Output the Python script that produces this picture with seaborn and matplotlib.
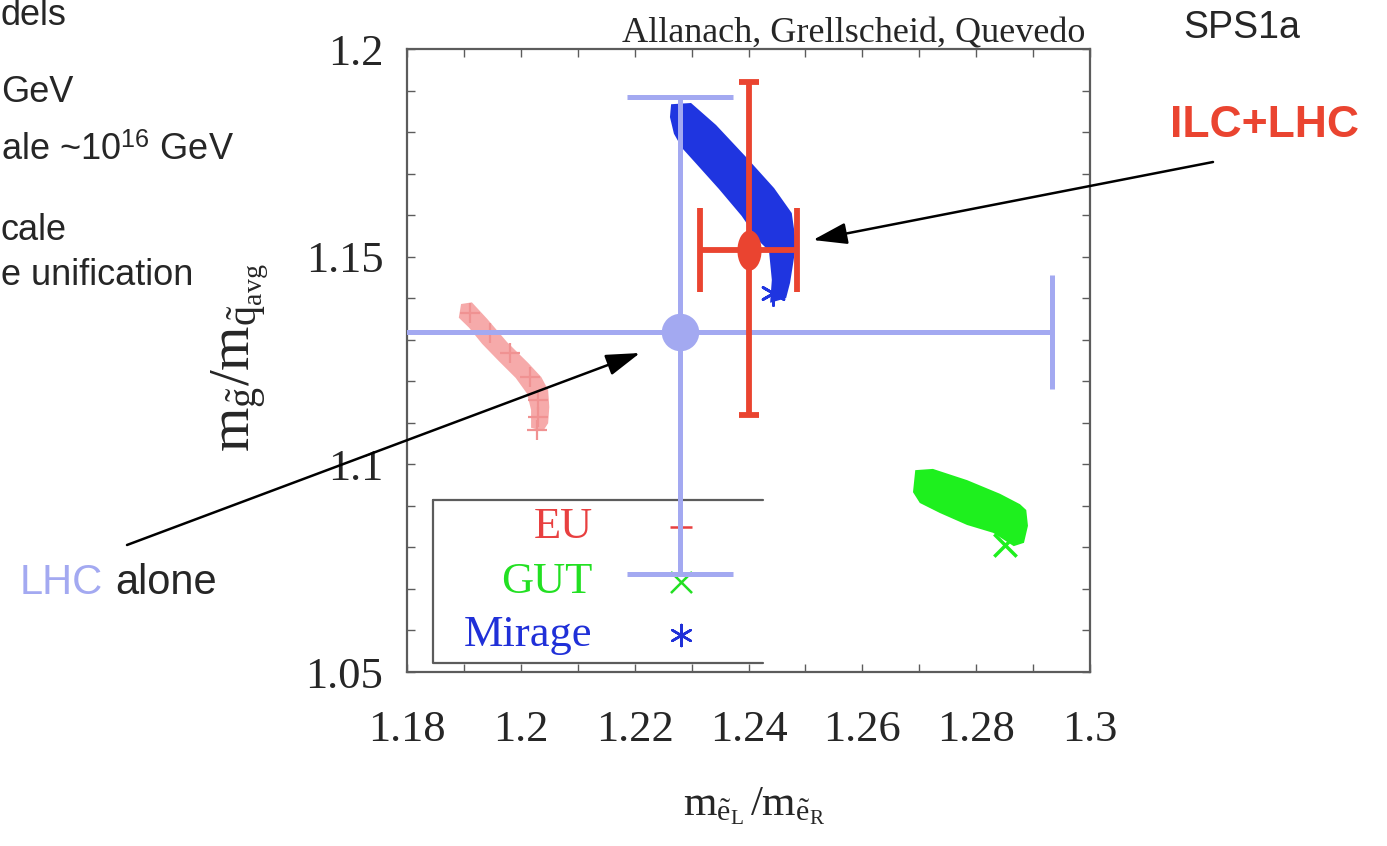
import matplotlib
matplotlib.use("Agg")
import numpy as np
import pandas as pd
import matplotlib.pyplot as plt
import seaborn as sns
from matplotlib.path import Path
from matplotlib.ticker import MultipleLocator, FuncFormatter

# ---------------------------------------------------------------- data
# scan regions of the three models (outline of each scatter band)
eu_x = [1.1895, 1.1914, 1.1941, 1.1976, 1.2013, 1.2036, 1.2048, 1.2050, 1.2048,
        1.2039, 1.2018, 1.2018, 1.2011, 1.1991, 1.1961, 1.1932, 1.1909, 1.1891]
eu_y = [1.1386, 1.1390, 1.1350, 1.1294, 1.1244, 1.1210, 1.1179, 1.1138, 1.1099,
        1.1080, 1.1088, 1.1131, 1.1170, 1.1208, 1.1249, 1.1290, 1.1329, 1.1353]
eu_pts_x = [1.1911, 1.1946, 1.1981, 1.2016, 1.2030, 1.2030, 1.2028]
eu_pts_y = [1.1364, 1.1316, 1.1268, 1.1210, 1.1155, 1.1114, 1.1083]

mirage_x = [1.2264, 1.2299, 1.2343, 1.2397, 1.2445, 1.2476, 1.2482, 1.2482, 1.2478,
            1.2473, 1.2466, 1.2438, 1.2441, 1.2436, 1.2418, 1.2388, 1.2348, 1.2308,
            1.2283, 1.2269, 1.2262]
mirage_y = [1.1867, 1.1870, 1.1817, 1.1738, 1.1665, 1.1605, 1.1547, 1.1516, 1.1480,
            1.1437, 1.1400, 1.1389, 1.1444, 1.1514, 1.1538, 1.1598, 1.1663, 1.1724,
            1.1762, 1.1796, 1.1836]
mirage_pts_x = [1.2443]
mirage_pts_y = [1.1412]

gut_x = [1.2693, 1.2724, 1.2784, 1.2842, 1.2877, 1.2888, 1.2891, 1.2884, 1.2866,
         1.2830, 1.2784, 1.2736, 1.2701, 1.2689]
gut_y = [1.0986, 1.0989, 1.0962, 1.0929, 1.0904, 1.0890, 1.0852, 1.0811, 1.0803,
         1.0835, 1.0854, 1.0883, 1.0907, 1.0933]
gut_pts_x = [1.2851]
gut_pts_y = [1.0806]

# measurements: central value and (minus, plus) errors
lhc_x, lhc_y = 1.2280, 1.1319
lhc_xerr = (0.0612, 0.0653)
lhc_yerr = (0.0583, 0.0565)

ilc_x, ilc_y = 1.2400, 1.1516
ilc_xerr = (0.0085, 0.0085)
ilc_yerr = (0.0397, 0.0405)

legend_labels = ["EU", "GUT", "Mirage"]
legend_marker_x = [1.2281, 1.2281, 1.2281]
legend_marker_y = [1.0849, 1.0717, 1.0589]

x_ticks = [1.18, 1.20, 1.22, 1.24, 1.26, 1.28, 1.30]
y_ticks = [1.05, 1.10, 1.15, 1.20]

# ---------------------------------------------------------------- style
sns.set_style("ticks")
plt.rcParams["font.family"] = ["Liberation Serif", "DejaVu Serif"]
plt.rcParams["mathtext.fontset"] = "custom"
plt.rcParams["mathtext.rm"] = "Liberation Serif"
plt.rcParams["mathtext.it"] = "Liberation Serif:italic"

LHC_C = "#a3a9f1"
ILC_C = "#ea4430"
EU_FILL = "#f6aaaa"
EU_MARK = "#f09292"
MIR_C = "#1f35e0"
GUT_C = "#1ef01e"
FRAME = "#5c5c5c"

W, H = 1387, 846


def fpos(px, py):
    """figure fraction from pixel position (origin top-left)"""
    return px / W, 1 - py / H


fig = plt.figure(figsize=(W / 100, H / 100), dpi=100)
ax = fig.add_axes([407 / W, 1 - 672 / H, 683 / W, 623 / H])

# ---------------------------------------------------------------- model bands
ax.fill(eu_x, eu_y, color=EU_FILL, lw=0, zorder=1)
ax.fill(mirage_x, mirage_y, color=MIR_C, lw=0, zorder=1)
ax.fill(gut_x, gut_y, color=GUT_C, lw=0, zorder=1)

eu_df = pd.DataFrame({"x": eu_pts_x, "y": eu_pts_y})
sns.scatterplot(data=eu_df, x="x", y="y", marker="+", s=200, color=EU_MARK,
                linewidth=1.6, ax=ax, zorder=2, legend=False)
sns.scatterplot(x=mirage_pts_x, y=mirage_pts_y, marker=(6, 2, 0), s=300,
                color=MIR_C, linewidth=2, ax=ax, zorder=2, legend=False)
sns.scatterplot(x=gut_pts_x, y=gut_pts_y, marker="x", s=260, color=GUT_C,
                linewidth=2.5, ax=ax, zorder=2, legend=False)

# ---------------------------------------------------------------- key box
key_colors = ["#e84040", "#22e022", "#2030d8"]
key_markers = ["+", "x", (6, 2, 0)]
for lab, mx, my, col, mk in zip(legend_labels, legend_marker_x, legend_marker_y,
                                 key_colors, key_markers):
    sns.scatterplot(x=[mx], y=[my], marker=mk, s=230, color=col, linewidth=1.8,
                    ax=ax, zorder=2, legend=False)
    ax.text(1.2126, my, lab, color=col, fontsize=32, ha="right", va="center",
            zorder=2)
ax.plot([0.038, 0.521], [0.276, 0.276], transform=ax.transAxes, color=FRAME,
        lw=1.6, zorder=1)
ax.plot([0.038, 0.038, 0.521], [0.276, 0.0144, 0.0144], transform=ax.transAxes,
        color=FRAME, lw=1.6, zorder=1)

# ---------------------------------------------------------------- measurements
ax.errorbar(lhc_x, lhc_y, xerr=[[lhc_xerr[0]], [lhc_xerr[1]]], fmt="none",
            ecolor=LHC_C, elinewidth=3.6, capsize=41, capthick=3.6, zorder=3)
ax.errorbar(lhc_x, lhc_y, yerr=[[lhc_yerr[0]], [lhc_yerr[1]]], fmt="none",
            ecolor=LHC_C, elinewidth=3.6, capsize=38, capthick=3.6, zorder=3)
sns.scatterplot(x=[lhc_x], y=[lhc_y], marker="o", s=27 ** 2, color=LHC_C,
                linewidth=0, ax=ax, zorder=4, legend=False)

ax.errorbar(ilc_x, ilc_y, xerr=[[ilc_xerr[0]], [ilc_xerr[1]]], fmt="none",
            ecolor=ILC_C, elinewidth=4.2, capsize=30, capthick=4.2, zorder=5)
ax.errorbar(ilc_x, ilc_y, yerr=[[ilc_yerr[0]], [ilc_yerr[1]]], fmt="none",
            ecolor=ILC_C, elinewidth=4.2, capsize=7, capthick=4.2, zorder=5)
circ = Path.unit_circle()
ellipse = Path(circ.vertices * np.array([0.6, 1.0]), circ.codes)
sns.scatterplot(x=[ilc_x], y=[ilc_y], marker=ellipse, s=29 ** 2, color=ILC_C,
                linewidth=0, ax=ax, zorder=6, legend=False)

# ---------------------------------------------------------------- axes
ax.set_xlim(1.18, 1.30)
ax.set_ylim(1.05, 1.20)
ax.set_xticks(x_ticks)
ax.set_yticks(y_ticks)
ax.xaxis.set_minor_locator(MultipleLocator(0.01))
ax.yaxis.set_minor_locator(MultipleLocator(0.01))
fmt = FuncFormatter(lambda v, p: f"{round(v, 3):g}")
ax.xaxis.set_major_formatter(fmt)
ax.yaxis.set_major_formatter(fmt)
ax.tick_params(which="both", direction="in", top=True, right=True, length=6,
               width=1, color=FRAME)
ax.tick_params(axis="x", which="major", labelsize=32, pad=27)
ax.tick_params(axis="y", which="major", labelsize=32, pad=17)
ax.set_xlabel("")
ax.set_ylabel("")
for sp in ax.spines.values():
    sp.set_visible(True)
    sp.set_color(FRAME)
    sp.set_linewidth(1.6)

fig.text(*fpos(754, 806),
         r"$\mathrm{m}_{\tilde{\mathrm{e}}_{\mathrm{L}}}\,/\mathrm{m}_{\tilde{\mathrm{e}}_{\mathrm{R}}}$",
         fontsize=31, ha="center", va="center")
fig.text(*fpos(240, 358),
         r"$\mathrm{m}_{\tilde{\mathrm{g}}}/\mathrm{m}_{\tilde{\mathrm{q}}_{\mathrm{avg}}}$",
         fontsize=41, ha="center", va="center", rotation=90)

fig.text(*fpos(1085, 42), "Allanach, Grellscheid, Quevedo", fontsize=26,
         ha="right", va="baseline")

# ---------------------------------------------------------------- slide labels
SANS = ["Liberation Sans", "DejaVu Sans"]
fig.text(*fpos(1183, 38), "SPS1a", fontsize=27, family=SANS, ha="left",
         va="baseline")
fig.text(*fpos(1170, 137), "ILC+LHC", fontsize=32, family=SANS, weight="bold",
         color=ILC_C, ha="left", va="baseline")
fig.text(*fpos(20, 594), "LHC", fontsize=30, family=SANS, color=LHC_C,
         ha="left", va="baseline")
fig.text(*fpos(115, 594), "alone", fontsize=30, family=SANS, ha="left",
         va="baseline")

side_lines = [("dels", 25), ("GeV", 102), (r"ale ~10$^{\mathregular{16}}$ GeV", 160),
              ("cale", 240), ("e unification", 285)]
for txt, base in side_lines:
    fig.text(*fpos(1, base), txt, fontsize=26, family=SANS, ha="left",
             va="baseline")

# ---------------------------------------------------------------- arrows
arrow_kw = dict(arrowstyle="-|>,head_length=0.95,head_width=0.3", color="black",
                lw=1.8, mutation_scale=22, shrinkA=0, shrinkB=0)
ax.annotate("", xy=fpos(813, 240), xycoords="figure fraction",
            xytext=fpos(1213, 162), textcoords="figure fraction",
            arrowprops=arrow_kw, annotation_clip=False, zorder=10)
ax.annotate("", xy=fpos(640, 353), xycoords="figure fraction",
            xytext=fpos(127, 545), textcoords="figure fraction",
            arrowprops=arrow_kw, annotation_clip=False, zorder=10)

fig.savefig("out.png", dpi=100)
